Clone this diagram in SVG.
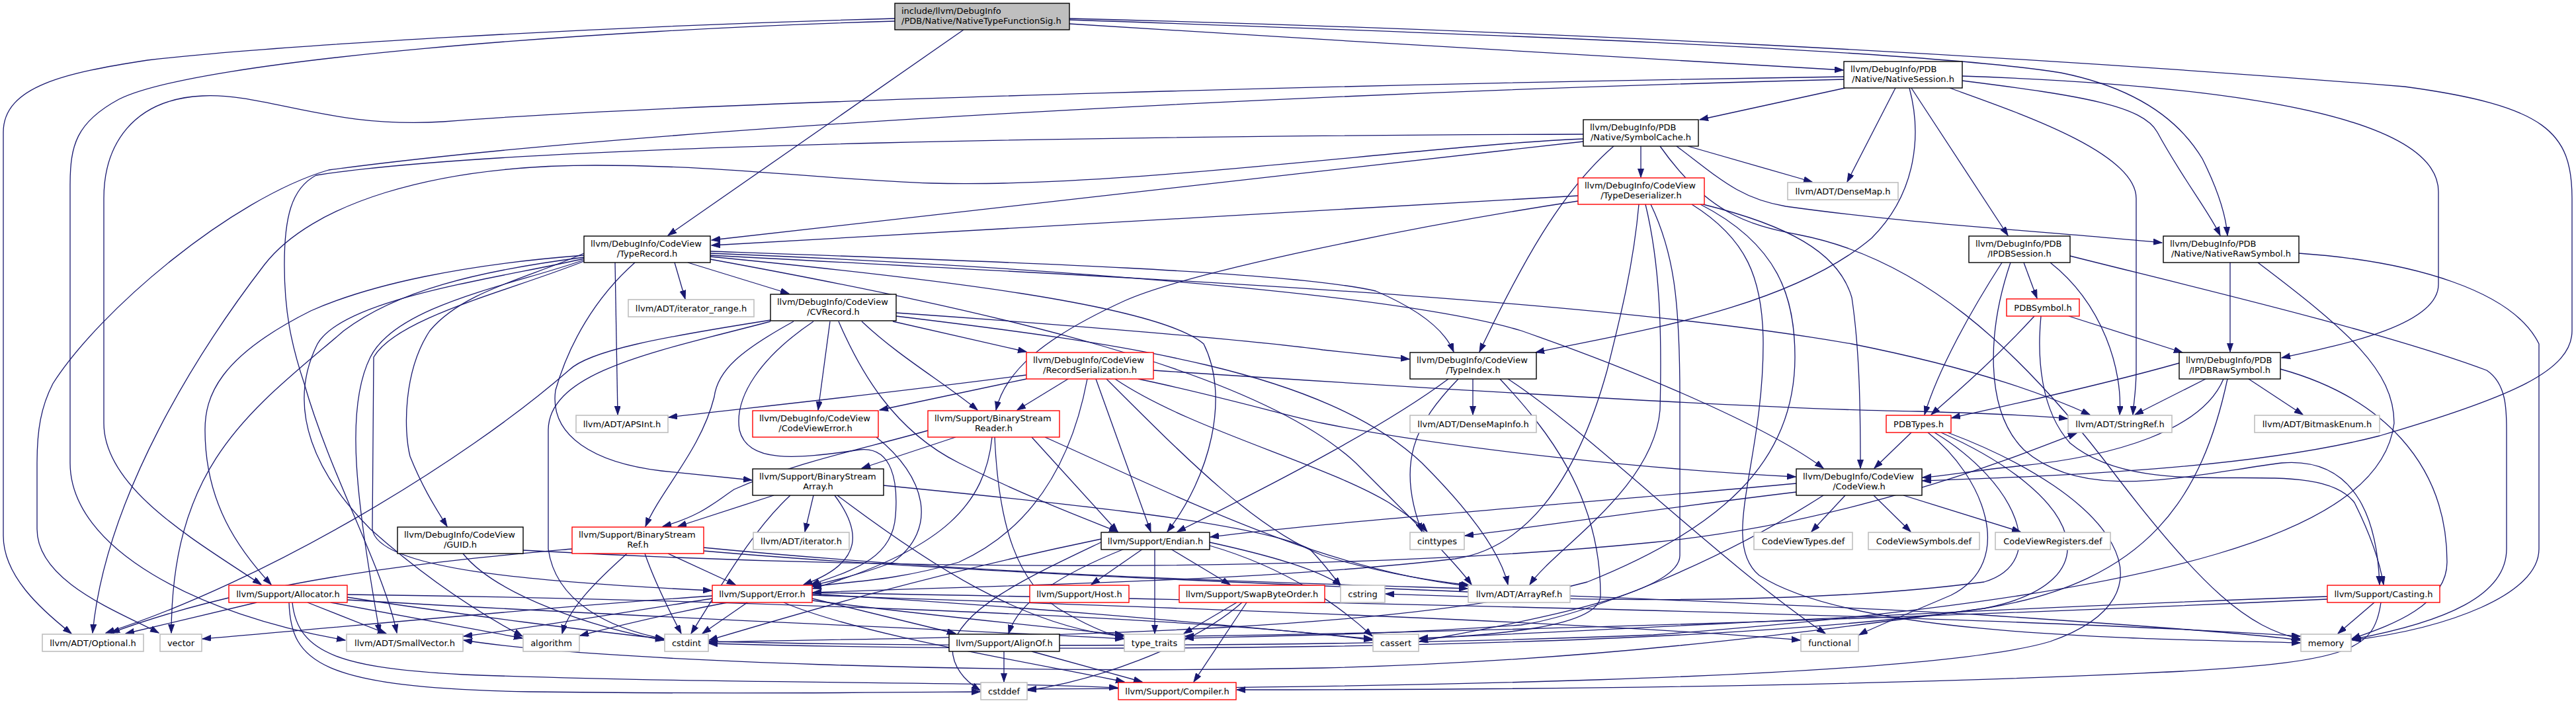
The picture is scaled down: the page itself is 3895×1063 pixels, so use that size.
<svg xmlns="http://www.w3.org/2000/svg" width="3895" height="1063" viewBox="0 0 3895 1063">
<style>
.bg{fill:#ffffff}
.e{fill:none;stroke:#191970;stroke-width:1.3;marker-end:url(#ah)}
.n rect{fill:#ffffff;stroke:#000000;stroke-width:1.4}
.g rect{fill:#ffffff;stroke:#bfbfbf;stroke-width:1.6}
.r rect{fill:#ffffff;stroke:#ff0000;stroke-width:1.4}
.t rect{fill:#bfbfbf;stroke:#000000;stroke-width:1.4}
text{font-family:"DejaVu Sans","Liberation Sans",sans-serif;font-size:13px;fill:#000000}
.m{text-anchor:middle}
</style>
<defs>
<marker id="ah" markerUnits="userSpaceOnUse" markerWidth="14" markerHeight="10" refX="13" refY="4.5" orient="auto">
<path d="M0,0 L13,4.5 L0,9 z" fill="#191970" stroke="#191970" stroke-width="1"/>
</marker>
</defs>
<rect class="bg" x="0" y="0" width="3895" height="1063"/>
<g id="edges">
<path class="e" d="M1457,45 L1010,356"/>
<path class="e" d="M1617,36 C2000,60 2500,90 2787,106"/>
<path class="e" d="M1617,30 C2200,50 2900,75 3116,110 C3240,135 3300,190 3330,240 C3355,290 3366,330 3368,356"/>
<path class="e" d="M1617,28 C2300,45 3000,80 3636,131 C3850,160 3889,200 3889,300 L3889,500 C3889,560 3800,600 3598,659 C3400,710 3100,720 2907,727"/>
<path class="e" d="M1353,28 C900,40 400,70 223,91 C100,110 5,130 5,200 L5,810 C5,870 60,920 108,958"/>
<path class="e" d="M1353,32 C900,45 300,90 180,150 C115,185 106,220 106,280 L106,700 C106,830 300,930 522,968"/>
<path class="e" d="M2790,133 L2570,181"/>
<path class="e" d="M2866,133 L2793,275"/>
<path class="e" d="M2887,133 C2905,200 2900,290 2830,360 C2700,470 2450,505 2322,533"/>
<path class="e" d="M2890,133 L3036,356"/>
<path class="e" d="M2967,122 C3150,145 3240,160 3262,200 C3300,270 3340,320 3357,356"/>
<path class="e" d="M2967,115 C3400,130 3687,180 3687,290 L3687,430 C3687,490 3550,520 3450,541"/>
<path class="e" d="M2948,133 C3050,170 3230,230 3230,300 L3230,560 C3230,590 3226,610 3225,627"/>
<path class="e" d="M2788,116 C2200,125 1100,150 670,184 C500,195 400,140 306,145 C200,150 157,220 157,300 L157,640 C157,740 300,820 395,884"/>
<path class="e" d="M2788,120 C2000,140 1000,190 497,257 C350,300 150,470 80,580 C62,615 56,650 56,700 L56,800 C56,880 180,925 240,957"/>
<path class="e" d="M2481,221 L2481,268"/>
<path class="e" d="M2552,221 L2740,275"/>
<path class="e" d="M2535,221 C2600,270 2630,300 2700,312 C2900,340 3100,350 3269,367"/>
<path class="e" d="M2440,221 C2360,290 2300,400 2237,532"/>
<path class="e" d="M2394,203 C1800,205 800,215 478,265 C440,285 430,330 430,400 C430,470 440,520 460,580 C500,720 580,860 600,957"/>
<path class="e" d="M2394,210 C2150,220 1700,285 1408,277 C1250,272 1100,250 900,250 C650,250 470,310 400,400 C300,530 160,750 140,957"/>
<path class="e" d="M2394,214 L1076,363"/>
<path class="e" d="M2510,221 C2580,320 2640,340 2720,355 C2900,390 3050,520 3200,720 C3330,890 3400,950 3478,966"/>
<path class="e" d="M2386,296 L1076,371"/>
<path class="e" d="M2386,304 C2150,340 1800,410 1700,455 C1580,510 1520,560 1506,620"/>
<path class="e" d="M2575,309 C2700,340 2780,380 2800,450 C2812,530 2813,620 2813,708"/>
<path class="e" d="M2488,309 C2510,400 2513,500 2510,620 C2500,740 2350,830 2313,884"/>
<path class="e" d="M2496,309 C2530,380 2540,450 2540,600 L2540,840 C2540,900 2300,940 2146,970"/>
<path class="e" d="M2558,309 C2640,360 2666,420 2666,520 C2666,700 2600,820 2660,870 C2800,960 3200,965 3478,972"/>
<path class="e" d="M2478,309 C2470,400 2450,480 2430,560 C2380,740 2300,830 2200,845 C1900,880 1500,885 1229,896"/>
<path class="e" d="M2571,309 C2690,370 2714,450 2714,540 C2714,700 2600,800 2400,880 C2100,960 1500,962 1072,971"/>
<path class="e" d="M1020,397 L1036,452"/>
<path class="e" d="M1040,397 L1193,444"/>
<path class="e" d="M1074,380 C1500,395 1950,410 2080,440 C2150,470 2185,500 2198,532"/>
<path class="e" d="M1074,383 C1500,400 2100,440 2300,500 C2500,570 2680,650 2757,708"/>
<path class="e" d="M1074,386 C1700,420 2400,450 2800,520 C3000,560 3100,600 3160,627"/>
<path class="e" d="M1074,388 C1400,420 1750,460 1820,520 C1860,600 1830,720 1765,804"/>
<path class="e" d="M1074,392 C1500,470 1900,560 2050,700 C2150,800 2200,850 2225,884"/>
<path class="e" d="M930,397 C931,480 933,560 934,627"/>
<path class="e" d="M960,397 C900,450 860,520 840,590 C830,660 900,700 1000,712 C1060,718 1100,722 1137,726"/>
<path class="e" d="M883,383 C800,420 700,440 650,500 C610,560 610,650 620,690 C640,740 660,770 676,796"/>
<path class="e" d="M883,386 C700,400 560,430 470,470 C330,540 310,600 310,650 C310,760 360,830 410,884"/>
<path class="e" d="M883,389 C720,410 600,440 520,500 C380,620 260,700 259,957"/>
<path class="e" d="M883,391 C760,420 520,450 480,520 C430,620 480,720 560,800 C650,880 730,930 790,962"/>
<path class="e" d="M883,393 C780,430 600,460 560,540 C520,620 540,760 574,957"/>
<path class="e" d="M883,395 C770,440 600,480 565,540 L563,800 C570,860 800,880 1076,893"/>
<path class="e" d="M1165,484 C1000,510 890,530 860,560 C700,700 400,880 160,957"/>
<path class="e" d="M1165,486 C1000,530 830,560 829,650 L829,830 C840,910 920,950 1004,966"/>
<path class="e" d="M1230,486 C1150,540 1110,600 1118,650 C1130,700 1200,695 1300,680 C1350,675 1358,730 1354,780 C1350,840 1300,860 1226,884"/>
<path class="e" d="M1255,486 L1237,620"/>
<path class="e" d="M1268,486 C1300,560 1350,650 1450,700 C1550,750 1630,780 1690,804"/>
<path class="e" d="M1303,486 C1360,540 1430,580 1478,620"/>
<path class="e" d="M1350,486 L1552,532"/>
<path class="e" d="M1355,473 C1600,490 1900,515 2000,529 C2060,535 2100,540 2131,543"/>
<path class="e" d="M1355,478 C1700,520 2000,560 2150,700 C2230,780 2270,840 2280,884"/>
<path class="e" d="M1200,486 C1120,530 1085,560 1080,600 C1060,680 1000,740 976,796"/>
<path class="e" d="M1552,567 C1300,600 1100,620 1011,631"/>
<path class="e" d="M1552,573 L1330,620"/>
<path class="e" d="M1615,573 L1538,620"/>
<path class="e" d="M1644,573 C1620,700 1560,800 1450,850 C1350,880 1270,880 1229,887"/>
<path class="e" d="M1657,573 L1740,804"/>
<path class="e" d="M1673,573 C1800,700 1900,800 2000,840 C2100,870 2180,880 2222,885"/>
<path class="e" d="M1686,573 C1800,650 2000,700 2100,760 C2130,780 2150,795 2158,804"/>
<path class="e" d="M1721,573 C1850,600 1950,630 2000,640 C2200,680 2500,710 2715,721"/>
<path class="e" d="M1744,560 C2200,590 2700,620 2900,622 C3000,625 3080,628 3126,633"/>
<path class="e" d="M1445,661 L1303,708"/>
<path class="e" d="M1403,651 C1300,680 1200,700 1110,740 C1080,760 1060,780 1002,796"/>
<path class="e" d="M1560,661 L1690,804"/>
<path class="e" d="M1500,661 C1490,760 1430,830 1229,890"/>
<path class="e" d="M1504,661 C1510,800 1540,880 1600,920 C1650,950 1680,960 1699,965"/>
<path class="e" d="M1580,661 C1800,760 2000,860 2219,886"/>
<path class="e" d="M1230,749 L1217,804"/>
<path class="e" d="M1170,749 L1025,796"/>
<path class="e" d="M1195,749 C1140,800 1100,870 1045,958"/>
<path class="e" d="M1262,749 C1300,800 1310,850 1215,884"/>
<path class="e" d="M1266,749 C1400,850 1550,950 1699,962"/>
<path class="e" d="M1336,734 C1600,760 1900,790 1980,830 C2000,850 2015,870 2027,886"/>
<path class="e" d="M865,830 C700,845 400,870 168,957"/>
<path class="e" d="M948,837 C900,880 860,920 850,958"/>
<path class="e" d="M1010,837 L1112,884"/>
<path class="e" d="M975,837 C990,880 1010,920 1030,958"/>
<path class="e" d="M1064,828 C1500,870 1900,880 2219,890"/>
<path class="e" d="M1064,833 C1600,880 2500,900 3000,930 C3300,950 3420,960 3478,968"/>
<path class="e" d="M700,837 C750,900 900,950 1004,968"/>
<path class="e" d="M791,832 C1300,860 2000,870 2500,820 C2800,790 3050,690 3140,655"/>
<path class="e" d="M388,911 L190,958"/>
<path class="e" d="M465,911 L584,958"/>
<path class="e" d="M500,911 L790,965"/>
<path class="e" d="M525,903 C700,930 900,955 1004,966"/>
<path class="e" d="M525,899 C1000,905 1800,930 2075,968"/>
<path class="e" d="M525,907 C900,930 1400,950 1699,966"/>
<path class="e" d="M442,911 C450,990 520,1010 700,1020 C1100,1035 1500,1030 1690,1040"/>
<path class="e" d="M437,911 C440,1000 480,1040 800,1046 C1100,1050 1350,1047 1482,1046"/>
<path class="e" d="M1077,901 C800,920 500,950 306,966"/>
<path class="e" d="M1077,905 C950,925 800,950 701,962"/>
<path class="e" d="M1100,911 C1000,930 920,950 877,961"/>
<path class="e" d="M1130,911 L1062,958"/>
<path class="e" d="M1228,905 L1445,958"/>
<path class="e" d="M1185,911 C1300,960 1550,1000 1700,1031"/>
<path class="e" d="M1228,908 C1400,930 1600,950 1699,960"/>
<path class="e" d="M1228,898 C1600,920 1900,950 2075,966"/>
<path class="e" d="M1228,900 C1800,920 2400,940 2722,968"/>
<path class="e" d="M1228,896 C2000,910 3000,930 3478,962"/>
<path class="e" d="M1325,661 C1400,720 1420,800 1350,850 C1300,870 1250,880 1226,886"/>
<path class="e" d="M1728,830 L1650,884"/>
<path class="e" d="M1746,830 L1746,958"/>
<path class="e" d="M1770,830 L1860,884"/>
<path class="e" d="M1665,820 C1560,870 1450,920 1440,980 C1440,1010 1460,1030 1482,1044"/>
<path class="e" d="M1700,830 C1600,870 1540,910 1525,958"/>
<path class="e" d="M1665,815 C1400,870 1200,930 1072,968"/>
<path class="e" d="M1829,825 C1950,860 2030,920 2075,962"/>
<path class="e" d="M1829,820 C1920,840 1990,860 2028,885"/>
<path class="e" d="M1870,911 L1790,958"/>
<path class="e" d="M1885,911 L1805,1031"/>
<path class="e" d="M1878,911 C1800,980 1650,1030 1554,1044"/>
<path class="e" d="M1518,985 L1518,1031"/>
<path class="e" d="M1560,985 L1727,1031"/>
<path class="e" d="M2227,573 L2227,627"/>
<path class="e" d="M2205,573 C2140,640 2110,700 2150,804"/>
<path class="e" d="M2190,573 C2100,640 1950,720 1780,804"/>
<path class="e" d="M2268,573 C2340,650 2420,750 2420,900 C2420,950 2250,960 2146,966"/>
<path class="e" d="M2280,573 C2400,650 2600,850 2760,958"/>
<path class="e" d="M2716,731 C2400,760 2000,790 1830,812"/>
<path class="e" d="M2716,744 C2500,770 2300,800 2215,810"/>
<path class="e" d="M2790,749 L2739,804"/>
<path class="e" d="M2833,749 L2889,804"/>
<path class="e" d="M2878,749 L3055,804"/>
<path class="e" d="M2757,749 C2600,850 2400,930 2300,945 C2100,960 1900,962 1792,965"/>
<path class="e" d="M2890,654 L2834,708"/>
<path class="e" d="M2945,654 C3200,750 3300,900 3100,970 C2900,1030 2000,1040 1554,1042"/>
<path class="e" d="M2935,654 C3150,750 3200,880 3000,920 C2500,990 1500,985 1072,973"/>
<path class="e" d="M2925,654 C3050,730 3100,850 3000,880 C2700,920 2300,905 2095,898"/>
<path class="e" d="M2915,654 C3000,720 3050,850 2950,900 C2880,930 2830,950 2811,960"/>
<path class="e" d="M3295,549 C3150,590 3000,620 2951,632"/>
<path class="e" d="M3335,573 L3228,627"/>
<path class="e" d="M3400,573 L3482,627"/>
<path class="e" d="M3362,573 C3330,650 3200,690 3050,705 C2980,712 2940,720 2907,722"/>
<path class="e" d="M3368,573 C3330,750 3250,880 3000,920 C2700,960 2400,1000 2000,1010 C1500,1020 900,1000 701,968"/>
<path class="e" d="M3448,558 C3600,600 3700,700 3700,850 C3700,920 3600,950 3556,966"/>
<path class="e" d="M3060,397 L3080,451"/>
<path class="e" d="M3027,397 C2980,470 2930,560 2910,627"/>
<path class="e" d="M3040,397 C3005,500 3000,620 3060,680 C3150,760 3300,720 3450,700 C3570,690 3595,800 3598,884"/>
<path class="e" d="M3100,397 C3180,460 3210,560 3205,627"/>
<path class="e" d="M3130,387 C3300,430 3600,500 3760,560 C3790,580 3790,620 3790,650 L3790,830 C3790,900 3700,940 3556,967"/>
<path class="e" d="M3128,478 L3300,533"/>
<path class="e" d="M3076,478 C3010,550 2950,600 2920,627"/>
<path class="e" d="M3086,478 C3080,540 3085,620 3130,670 C3250,770 3500,680 3560,760 C3590,820 3600,860 3604,884"/>
<path class="e" d="M3372,397 L3372,532"/>
<path class="e" d="M3476,383 C3650,395 3800,440 3839,520 L3839,830 C3839,900 3700,950 3557,968"/>
<path class="e" d="M3414,397 C3550,500 3620,560 3620,640 C3600,800 3300,900 2500,960 C2000,980 1400,978 1072,970"/>
<path class="e" d="M3590,911 L3535,958"/>
<path class="e" d="M3519,902 C3000,920 2500,950 2146,965"/>
<path class="e" d="M3519,906 C3000,930 2300,955 1792,962"/>
<path class="e" d="M3600,911 C3590,980 3560,1000 3300,1015 C2800,1040 2200,1043 1870,1043"/>
</g>
<g id="n0" class="t"><rect x="1353" y="5" width="264" height="40"/><text x="1363" y="21">include/llvm/DebugInfo</text><text x="1363" y="36">/PDB/Native/NativeTypeFunctionSig.h</text></g>
<g id="TypeRecord" class="n"><rect x="883" y="357" width="191" height="40"/><text x="893" y="373">llvm/DebugInfo/CodeView</text><text class="m" x="978.5" y="388">/TypeRecord.h</text></g>
<g id="iterator_range" class="g"><rect x="950" y="453" width="190" height="26"/><text class="m" x="1045" y="470.5">llvm/ADT/iterator_range.h</text></g>
<g id="CVRecord" class="n"><rect x="1165" y="445" width="190" height="40"/><text x="1175" y="461">llvm/DebugInfo/CodeView</text><text class="m" x="1260" y="476">/CVRecord.h</text></g>
<g id="RecordSerialization" class="r"><rect x="1552" y="533" width="192" height="40"/><text x="1562" y="549">llvm/DebugInfo/CodeView</text><text class="m" x="1648" y="564">/RecordSerialization.h</text></g>
<g id="NativeSession" class="n"><rect x="2788" y="93" width="179" height="40"/><text x="2798" y="109">llvm/DebugInfo/PDB</text><text class="m" x="2877.5" y="124">/Native/NativeSession.h</text></g>
<g id="SymbolCache" class="n"><rect x="2394" y="181" width="174" height="40"/><text x="2404" y="197">llvm/DebugInfo/PDB</text><text class="m" x="2481" y="212">/Native/SymbolCache.h</text></g>
<g id="TypeDeserializer" class="r"><rect x="2386" y="269" width="191" height="40"/><text x="2396" y="285">llvm/DebugInfo/CodeView</text><text class="m" x="2481.5" y="300">/TypeDeserializer.h</text></g>
<g id="DenseMap" class="g"><rect x="2703" y="276" width="167" height="26"/><text class="m" x="2786.5" y="293.5">llvm/ADT/DenseMap.h</text></g>
<g id="TypeIndex" class="n"><rect x="2132" y="533" width="191" height="40"/><text x="2142" y="549">llvm/DebugInfo/CodeView</text><text class="m" x="2227.5" y="564">/TypeIndex.h</text></g>
<g id="IPDBSession" class="n"><rect x="2977" y="357" width="153" height="40"/><text x="2987" y="373">llvm/DebugInfo/PDB</text><text class="m" x="3053.5" y="388">/IPDBSession.h</text></g>
<g id="NativeRawSymbol" class="n"><rect x="3271" y="357" width="205" height="40"/><text x="3281" y="373">llvm/DebugInfo/PDB</text><text class="m" x="3373.5" y="388">/Native/NativeRawSymbol.h</text></g>
<g id="PDBSymbol" class="r"><rect x="3034" y="452" width="110" height="26"/><text class="m" x="3089" y="469.5">PDBSymbol.h</text></g>
<g id="IPDBRawSymbol" class="n"><rect x="3295" y="533" width="153" height="40"/><text x="3305" y="549">llvm/DebugInfo/PDB</text><text class="m" x="3371.5" y="564">/IPDBRawSymbol.h</text></g>
<g id="PDBTypes" class="r"><rect x="2852" y="628" width="98" height="26"/><text class="m" x="2901" y="645.5">PDBTypes.h</text></g>
<g id="StringRef" class="g"><rect x="3127" y="628" width="157" height="26"/><text class="m" x="3205.5" y="645.5">llvm/ADT/StringRef.h</text></g>
<g id="BitmaskEnum" class="g"><rect x="3409" y="628" width="189" height="26"/><text class="m" x="3503.5" y="645.5">llvm/ADT/BitmaskEnum.h</text></g>
<g id="CodeViewRegisters" class="g"><rect x="3017" y="805" width="174" height="26"/><text class="m" x="3104" y="822.5">CodeViewRegisters.def</text></g>
<g id="Casting" class="r"><rect x="3519" y="885" width="170" height="26"/><text class="m" x="3604" y="902.5">llvm/Support/Casting.h</text></g>
<g id="memory" class="g"><rect x="3479" y="959" width="76" height="26"/><text class="m" x="3517" y="976.5">memory</text></g>
<g id="DenseMapInfo" class="g"><rect x="2132" y="628" width="191" height="26"/><text class="m" x="2227.5" y="645.5">llvm/ADT/DenseMapInfo.h</text></g>
<g id="CodeView" class="n"><rect x="2716" y="709" width="190" height="40"/><text x="2726" y="725">llvm/DebugInfo/CodeView</text><text class="m" x="2811" y="740">/CodeView.h</text></g>
<g id="cinttypes" class="g"><rect x="2132" y="805" width="82" height="26"/><text class="m" x="2173" y="822.5">cinttypes</text></g>
<g id="CodeViewTypes" class="g"><rect x="2652" y="805" width="149" height="26"/><text class="m" x="2726.5" y="822.5">CodeViewTypes.def</text></g>
<g id="CodeViewSymbols" class="g"><rect x="2825" y="805" width="168" height="26"/><text class="m" x="2909" y="822.5">CodeViewSymbols.def</text></g>
<g id="cstring" class="g"><rect x="2027" y="885" width="67" height="26"/><text class="m" x="2060.5" y="902.5">cstring</text></g>
<g id="ArrayRef" class="g"><rect x="2220" y="885" width="154" height="26"/><text class="m" x="2297" y="902.5">llvm/ADT/ArrayRef.h</text></g>
<g id="cassert" class="g"><rect x="2076" y="959" width="69" height="26"/><text class="m" x="2110.5" y="976.5">cassert</text></g>
<g id="functional" class="g"><rect x="2723" y="959" width="87" height="26"/><text class="m" x="2766.5" y="976.5">functional</text></g>
<g id="CodeViewError" class="r"><rect x="1138" y="621" width="190" height="40"/><text x="1148" y="637">llvm/DebugInfo/CodeView</text><text class="m" x="1233" y="652">/CodeViewError.h</text></g>
<g id="BinaryStreamReader" class="r"><rect x="1403" y="621" width="199" height="40"/><text x="1413" y="637">llvm/Support/BinaryStream</text><text class="m" x="1502.5" y="652">Reader.h</text></g>
<g id="BinaryStreamArray" class="n"><rect x="1138" y="709" width="198" height="40"/><text x="1148" y="725">llvm/Support/BinaryStream</text><text class="m" x="1237" y="740">Array.h</text></g>
<g id="iterator" class="g"><rect x="1139" y="805" width="145" height="26"/><text class="m" x="1211.5" y="822.5">llvm/ADT/iterator.h</text></g>
<g id="Endian" class="n"><rect x="1665" y="805" width="164" height="26"/><text class="m" x="1747" y="822.5">llvm/Support/Endian.h</text></g>
<g id="Error" class="r"><rect x="1077" y="885" width="151" height="26"/><text class="m" x="1152.5" y="902.5">llvm/Support/Error.h</text></g>
<g id="Host" class="r"><rect x="1557" y="885" width="150" height="26"/><text class="m" x="1632" y="902.5">llvm/Support/Host.h</text></g>
<g id="SwapByteOrder" class="r"><rect x="1783" y="885" width="220" height="26"/><text class="m" x="1893" y="902.5">llvm/Support/SwapByteOrder.h</text></g>
<g id="cstdint" class="g"><rect x="1005" y="959" width="66" height="26"/><text class="m" x="1038" y="976.5">cstdint</text></g>
<g id="AlignOf" class="n"><rect x="1435" y="959" width="167" height="26"/><text class="m" x="1518.5" y="976.5">llvm/Support/AlignOf.h</text></g>
<g id="type_traits" class="g"><rect x="1700" y="959" width="91" height="26"/><text class="m" x="1745.5" y="976.5">type_traits</text></g>
<g id="cstddef" class="g"><rect x="1483" y="1032" width="70" height="26"/><text class="m" x="1518" y="1049.5">cstddef</text></g>
<g id="Compiler" class="r"><rect x="1691" y="1032" width="178" height="26"/><text class="m" x="1780" y="1049.5">llvm/Support/Compiler.h</text></g>
<g id="APSInt" class="g"><rect x="871" y="628" width="139" height="26"/><text class="m" x="940.5" y="645.5">llvm/ADT/APSInt.h</text></g>
<g id="GUID" class="n"><rect x="601" y="797" width="190" height="40"/><text x="611" y="813">llvm/DebugInfo/CodeView</text><text class="m" x="696" y="828">/GUID.h</text></g>
<g id="BinaryStreamRef" class="r"><rect x="865" y="797" width="199" height="40"/><text x="875" y="813">llvm/Support/BinaryStream</text><text class="m" x="964.5" y="828">Ref.h</text></g>
<g id="Allocator" class="r"><rect x="346" y="885" width="179" height="26"/><text class="m" x="435.5" y="902.5">llvm/Support/Allocator.h</text></g>
<g id="Optional" class="g"><rect x="64" y="959" width="153" height="26"/><text class="m" x="140.5" y="976.5">llvm/ADT/Optional.h</text></g>
<g id="vector" class="g"><rect x="242" y="959" width="63" height="26"/><text class="m" x="273.5" y="976.5">vector</text></g>
<g id="SmallVector" class="g"><rect x="524" y="959" width="176" height="26"/><text class="m" x="612" y="976.5">llvm/ADT/SmallVector.h</text></g>
<g id="algorithm" class="g"><rect x="791" y="959" width="85" height="26"/><text class="m" x="833.5" y="976.5">algorithm</text></g>
</svg>
